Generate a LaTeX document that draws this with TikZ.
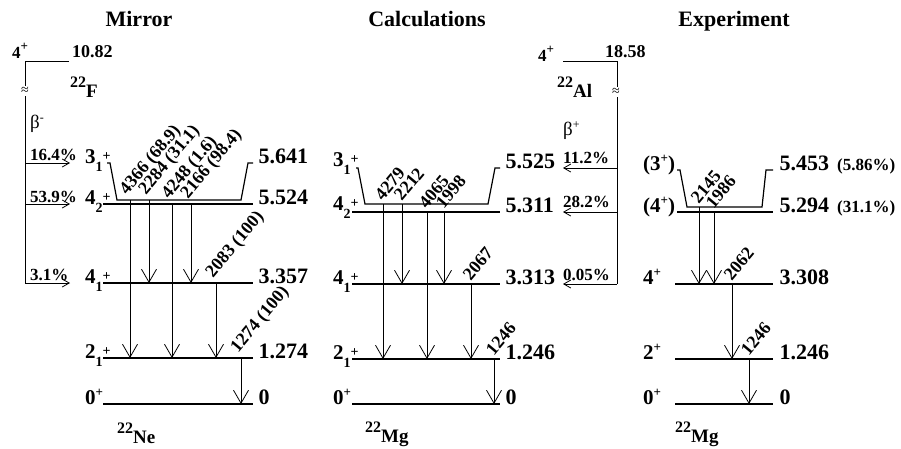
\documentclass[tikz,border=0pt]{standalone}
\usepackage{fontspec}
\setmainfont{Liberation Serif}
\usetikzlibrary{arrows.meta}

\newcommand{\fsz}[1]{\fontsize{#1}{#1}\selectfont}
\newcommand{\spin}[2]{#1\raisebox{-8pt}{\fsz{14}#2}\raisebox{3pt}{\fsz{14}+}}
\newcommand{\spinp}[1]{#1\raisebox{8pt}{\fsz{13}+}}
\newcommand{\spinpp}[1]{(#1\raisebox{8pt}{\fsz{13}+})}
\newcommand{\nuc}[2]{\raisebox{10pt}{\fsz{16}#1}#2}

\tikzset{
  lev/.style={line width=1.2pt},
  bline/.style={line width=0.9pt},
  gam/.style={line width=0.8pt,-{Straight Barb[length=13pt,width=15pt,line width=0.8pt]}},
  feed/.style={line width=0.8pt,-{Straight Barb[length=7pt,width=8pt,line width=0.8pt]}},
  elab/.style={font=\fsz{22}\bfseries,anchor=base west,inner sep=0pt},
  slab/.style={font=\fsz{21}\bfseries,anchor=base west,inner sep=0pt},
  glab/.style={font=\fsz{18}\bfseries,anchor=south west,rotate=50,inner sep=0pt},
  plab/.style={font=\fsz{17}\bfseries,anchor=base west,inner sep=0pt},
  nlab/.style={font=\fsz{19}\bfseries,anchor=base west,inner sep=0pt},
  ttl/.style={font=\fsz{22}\bfseries,anchor=base,inner sep=0pt},
  brk/.style={font=\fsz{14},inner sep=1.5pt},
}

\begin{document}
\begin{tikzpicture}[x=1pt,y=-1pt]
\useasboundingbox (0,0) rectangle (901,448);

% titles
\node[ttl] (tMir) at (139,26) {Mirror};
\node[ttl] (tCal) at (427,26) {Calculations};
\node[ttl] (tExp) at (734,26) {Experiment};

% 22F beta- feeding
\node[plab] (pF) at (12,58) {\spinp{4}};
\node[plab,font=\fsz{18}\bfseries] (eF) at (72,57) {10.82};
\coordinate (F0) at (25,61);
\coordinate (FE) at (69,61);
\node[brk] (apF) at (25,91) {≈};
\coordinate (F1) at (25,163);
\coordinate (F2) at (25,204);
\coordinate (F3) at (25,283);
\draw[bline] (FE) -- (F0) -- (apF.north);
\draw[bline] (apF.south) -- (F3);
\node[nlab] (nF) at (70,97) {\nuc{22}{F}};
\node[font=\fsz{19},anchor=base west,inner sep=0pt] (bF) at (30,128) {β\raisebox{7pt}{\fsz{12}-}};
\draw[feed] (F1) -- ++(45,0);
\draw[feed] (F2) -- ++(45,0);
\draw[feed] (F3) -- ++(45,0);
\node[plab] (pF1) at (30,160) {16.4\%};
\node[plab] (pF2) at (30,202) {53.9\%};
\node[plab] (pF3) at (30,280) {3.1\%};

% mirror levels (22Ne)
\coordinate (m31) at (107,163);
\coordinate (m31b) at (117,200);
\coordinate (m42) at (103,204);
\coordinate (m41) at (103,283);
\coordinate (m21) at (103,358);
\coordinate (m01) at (103,404);
\draw[lev] (m31) -- ++(3,0) -- (m31b) -- (241,200) -- (248,163) -- (253,163)
  node[elab,xshift=5pt] (e31m) {5.641};
\draw[lev] (m42) -- ++(150,0) node[elab,xshift=5pt] (e42m) {5.524};
\draw[lev] (m41) -- ++(150,0) node[elab,xshift=5pt] (e41m) {3.357};
\draw[lev] (m21) -- ++(150,0) node[elab,xshift=5pt] (e21m) {1.274};
\draw[lev] (m01) -- ++(150,0) node[elab,xshift=5pt] (e01m) {0};
\node[slab] (s31m) at (85,163) {\spin{3}{1}};
\node[slab] (s42m) at (85,204) {\spin{4}{2}};
\node[slab] (s41m) at (85,283) {\spin{4}{1}};
\node[slab] (s21m) at (85,358) {\spin{2}{1}};
\node[slab] (s01m) at (85,404) {\spinp{0}};
\node[nlab] (nNe) at (117,443) {\nuc{22}{Ne}};

\coordinate (gm1) at (130,200);
\coordinate (gm2) at (149,200);
\coordinate (gm3) at (172,204);
\coordinate (gm4) at (191,204);
\coordinate (gm5) at (216,283);
\coordinate (gm6) at (241,358);
\draw[gam] (gm1) -- (gm1 |- m21);
\draw[gam] (gm2) -- (gm2 |- m41);
\draw[gam] (gm3) -- (gm3 |- m21);
\draw[gam] (gm4) -- (gm4 |- m41);
\draw[gam] (gm5) -- (gm5 |- m21);
\draw[gam] (gm6) -- (gm6 |- m01);
\node[glab] (lm1) at ([yshift=2pt]gm1) {4366 (68.9)};
\node[glab] (lm2) at ([yshift=2pt]gm2) {2284 (31.1)};
\node[glab] (lm3) at ([yshift=2pt]gm3) {4248 (1.6)};
\node[glab] (lm4) at ([yshift=2pt]gm4) {2166 (98.4)};
\node[glab] (lm5) at ([yshift=2pt]gm5) {2083 (100)};
\node[glab] (lm6) at ([yshift=2pt]gm6) {1274 (100)};

% calculated levels (22Mg)
\coordinate (c31) at (356,168);
\coordinate (c31b) at (365,204);
\coordinate (c42) at (352,212);
\coordinate (c41) at (352,284);
\coordinate (c21) at (352,359);
\coordinate (c01) at (352,404);
\draw[lev] (c31) -- ++(2,0) -- (c31b) -- (488,204) -- (495,168) -- (500,168)
  node[elab,xshift=5pt] (e31c) {5.525};
\draw[lev] (c42) -- ++(148,0) node[elab,xshift=5pt] (e42c) {5.311};
\draw[lev] (c41) -- ++(148,0) node[elab,xshift=5pt] (e41c) {3.313};
\draw[lev] (c21) -- ++(148,0) node[elab,xshift=5pt] (e21c) {1.246};
\draw[lev] (c01) -- ++(148,0) node[elab,xshift=5pt] (e01c) {0};
\node[slab] (s31c) at (333,166) {\spin{3}{1}};
\node[slab] (s42c) at (333,210) {\spin{4}{2}};
\node[slab] (s41c) at (333,284) {\spin{4}{1}};
\node[slab] (s21c) at (333,359) {\spin{2}{1}};
\node[slab] (s01c) at (333,404) {\spinp{0}};
\node[nlab] (nMgc) at (365,442) {\nuc{22}{Mg}};

\coordinate (gc1) at (383,204);
\coordinate (gc2) at (402,204);
\coordinate (gc3) at (427,212);
\coordinate (gc4) at (444,212);
\coordinate (gc5) at (471,284);
\coordinate (gc6) at (494,359);
\draw[gam] (gc1) -- (gc1 |- c21);
\draw[gam] (gc2) -- (gc2 |- c41);
\draw[gam] (gc3) -- (gc3 |- c21);
\draw[gam] (gc4) -- (gc4 |- c41);
\draw[gam] (gc5) -- (gc5 |- c21);
\draw[gam] (gc6) -- (gc6 |- c01);
\node[glab] (lc1) at ([yshift=2pt]gc1) {4279};
\node[glab] (lc2) at ([yshift=2pt]gc2) {2212};
\node[glab] (lc3) at ([yshift=2pt]gc3) {4065};
\node[glab] (lc4) at ([yshift=2pt]gc4) {1998};
\node[glab] (lc5) at ([yshift=2pt]gc5) {2067};
\node[glab] (lc6) at ([yshift=2pt]gc6) {1246};

% 22Al beta+ feeding
\node[plab] (pAl) at (538,61) {\spinp{4}};
\node[plab,font=\fsz{18}\bfseries] (eAl) at (605,57) {18.58};
\coordinate (A0) at (617,61);
\coordinate (AE) at (563,61);
\node[brk] (apA) at (616,92) {≈};
\coordinate (A1) at (617,168);
\coordinate (A2) at (617,212);
\coordinate (A3) at (617,284);
\draw[bline] (AE) -- (A0) -- (apA.north -| A0);
\draw[bline] (apA.south -| A0) -- (A3);
\node[nlab] (nAl) at (557,97) {\nuc{22}{Al}};
\node[font=\fsz{19},anchor=base west,inner sep=0pt] (bAl) at (563,135) {β\raisebox{7pt}{\fsz{12}+}};
\draw[feed] (A1) -- ++(-54,0);
\draw[feed] (A2) -- ++(-54,0);
\draw[feed] (A3) -- ++(-54,0);
\node[plab] (pA1) at (563,163) {11.2\%};
\node[plab] (pA2) at (563,207) {28.2\%};
\node[plab] (pA3) at (563,280) {0.05\%};

% experimental levels (22Mg)
\coordinate (x31) at (677,170);
\coordinate (x31b) at (687,207);
\coordinate (x42) at (677,212);
\coordinate (x41) at (675,284);
\coordinate (x21) at (675,359);
\coordinate (x01) at (675,404);
\draw[lev] (x31) -- ++(3,0) -- (x31b) -- (762,207) -- (766,170) -- (773,170)
  node[elab,xshift=6pt] (e31x) {5.453};
\draw[lev] (x42) -- ++(96,0) node[elab,xshift=6pt] (e42x) {5.294};
\draw[lev] (x41) -- ++(98,0) node[elab,xshift=6pt] (e41x) {3.308};
\draw[lev] (x21) -- ++(98,0) node[elab,xshift=6pt] (e21x) {1.246};
\draw[lev] (x01) -- ++(98,0) node[elab,xshift=6pt] (e01x) {0};
\node[plab] (i31x) at (837,170) {(5.86\%)};
\node[plab] (i42x) at (837,212) {(31.1\%)};
\node[slab] (s31x) at (643,170) {\spinpp{3}};
\node[slab] (s42x) at (643,212) {\spinpp{4}};
\node[slab] (s41x) at (643,284) {\spinp{4}};
\node[slab] (s21x) at (643,359) {\spinp{2}};
\node[slab] (s01x) at (643,404) {\spinp{0}};
\node[nlab] (nMgx) at (675,442) {\nuc{22}{Mg}};

\coordinate (gx1) at (699,207);
\coordinate (gx2) at (714,212);
\coordinate (gx3) at (732,284);
\coordinate (gx4) at (749,359);
\draw[gam] (gx1) -- (gx1 |- x41);
\draw[gam] (gx2) -- (gx2 |- x41);
\draw[gam] (gx3) -- (gx3 |- x21);
\draw[gam] (gx4) -- (gx4 |- x01);
\node[glab] (lx1) at ([yshift=2pt]gx1) {2145};
\node[glab] (lx2) at ([yshift=2pt]gx2) {1986};
\node[glab] (lx3) at ([yshift=2pt]gx3) {2062};
\node[glab] (lx4) at ([yshift=2pt]gx4) {1246};

\end{tikzpicture}
\end{document}
